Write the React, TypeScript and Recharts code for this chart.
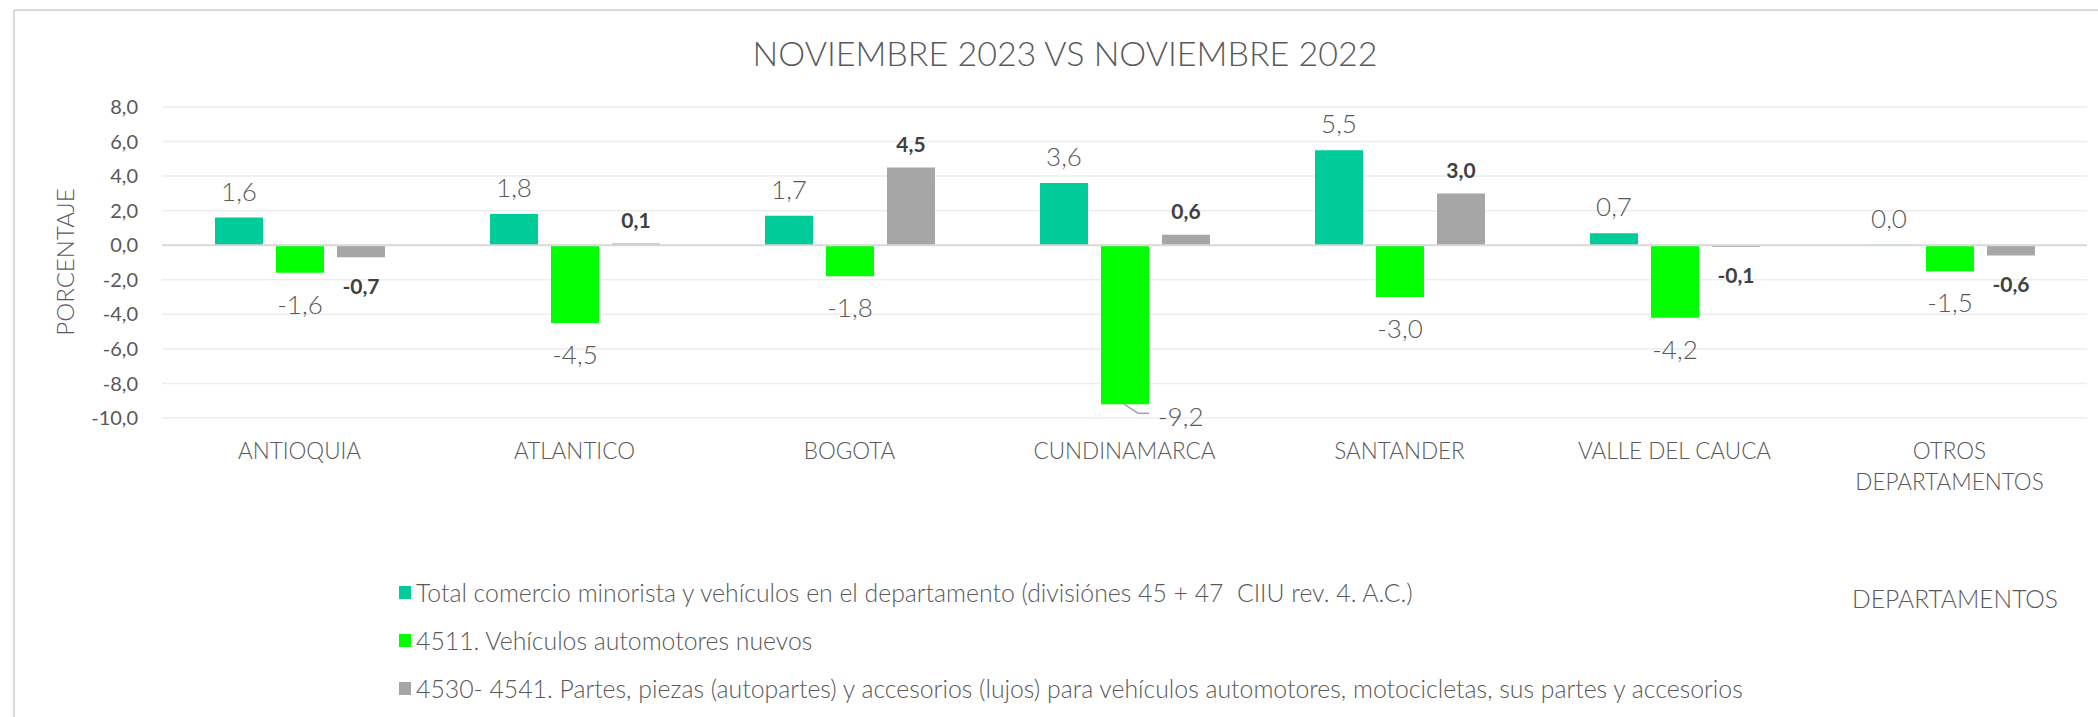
import React from 'react';
import { BarChart, Bar, XAxis, YAxis, CartesianGrid, LabelList, ReferenceLine } from 'recharts';

const categories = ['ANTIOQUIA', 'ATLANTICO', 'BOGOTA', 'CUNDINAMARCA', 'SANTANDER', 'VALLE DEL CAUCA', 'OTROS DEPARTAMENTOS'];
const totalComercio = [1.6, 1.8, 1.7, 3.6, 5.5, 0.7, 0.03];
const vehiculosNuevos = [-1.6, -4.5, -1.8, -9.2, -3.0, -4.2, -1.5];
const partesPiezas = [-0.7, 0.1, 4.5, 0.6, 3.0, -0.1, -0.6];
const yTicks = [-10, -8, -6, -4, -2, 0, 2, 4, 6, 8];
const seriesNames = [
  'Total comercio minorista y vehículos en el departamento (divisiónes 45 + 47  CIIU rev. 4. A.C.)',
  '4511. Vehículos automotores nuevos',
  '4530- 4541. Partes, piezas (autopartes) y accesorios (lujos) para vehículos automotores, motocicletas, sus partes y accesorios',
];
const seriesKeys = ['total', 'nuevos', 'partes'];
const seriesColors = ['#00CC99', '#00FF00', '#A6A6A6'];
const title = 'NOVIEMBRE 2023 VS NOVIEMBRE 2022';
const yTitle = 'PORCENTAJE';
const xTitle = 'DEPARTAMENTOS';

const data = categories.map((name, i) => ({
  name,
  total: totalComercio[i],
  nuevos: vehiculosNuevos[i],
  partes: partesPiezas[i],
}));

const FONT = 'Lato, "Open Sans", sans-serif';
const TEXT = '#595959';
const W = 2098;
const H = 717;
const PLOT_TOP = 107;
const PLOT_BOTTOM = 418;
const PLOT_RIGHT = 2087;
const PLOT_LEFT = 162;
const X_AXIS_H = 60;

const fmt = (v: number) => (Math.round(v * 10) / 10).toFixed(1).replace('.', ',').replace('-0,0', '0,0');

const wrapWords = (s: string, max: number) => {
  const words = s.split(' ');
  const lines: string[] = [];
  let cur = '';
  words.forEach((w) => {
    const next = cur ? cur + ' ' + w : w;
    if (next.length > max && cur) {
      lines.push(cur);
      cur = w;
    } else cur = next;
  });
  if (cur) lines.push(cur);
  return lines;
};

const CategoryTick = (props: any) => {
  const { x, y, payload } = props;
  const lines = wrapWords(String(payload.value), 16);
  return (
    <text x={x} y={y} textAnchor="middle" fill={TEXT} fontSize={22.5} fontFamily={FONT} fontWeight={300}>
      {lines.map((l, i) => (
        <tspan key={i} x={x} dy={i === 0 ? 33 : 31}>
          {l}
        </tspan>
      ))}
    </text>
  );
};

const makeLabel = (bold: boolean, aboveGap: number, belowGap: number) => (props: any) => {
  const { x, y, width, height, value } = props;
  const top = Math.min(y, y + height);
  const bottom = Math.max(y, y + height);
  const cx = x + width / 2;
  const fontSize = bold ? 21 : 26;
  const style = {
    fill: bold ? '#404040' : TEXT,
    fontSize,
    fontFamily: FONT,
    fontWeight: bold ? 700 : 300,
  } as any;
  const txt = fmt(Number(value));
  if (value >= 0) {
    return (
      <text x={cx} y={top - aboveGap} textAnchor="middle" dominantBaseline="central" style={style}>
        {txt}
      </text>
    );
  }
  const belowCenter = bottom + belowGap;
  if (belowCenter > PLOT_BOTTOM) {
    const right = x + width;
    const ly = bottom + 9;
    return (
      <g>
        <polyline
          points={`${cx - 1},${bottom} ${cx + 13},${ly} ${right},${ly}`}
          fill="none"
          stroke="#A6A6A6"
          strokeWidth={1.5}
        />
        <text x={right + 9} y={bottom + 12} textAnchor="start" dominantBaseline="central" style={style}>
          {txt}
        </text>
      </g>
    );
  }
  return (
    <text x={cx} y={belowCenter} textAnchor="middle" dominantBaseline="central" style={style}>
      {txt}
    </text>
  );
};

const labelRenderers = [makeLabel(false, 27, 31), makeLabel(false, 27, 31), makeLabel(true, 24, 28)];

export default function App() {
  return (
    <div style={{ position: 'absolute', left: 0, top: 0, width: W, height: H, background: '#fff', overflow: 'hidden' }}>
      <BarChart
        width={W}
        height={H}
        data={data}
        margin={{ top: PLOT_TOP, right: W - PLOT_RIGHT, bottom: H - PLOT_BOTTOM - X_AXIS_H, left: PLOT_LEFT - 100 }}
        barGap={13}
        barSize={48}
      >
        <CartesianGrid vertical={false} stroke="#EDEDED" strokeWidth={1.5} />
        <XAxis
          dataKey="name"
          axisLine={false}
          tickLine={false}
          interval={0}
          height={X_AXIS_H}
          tick={<CategoryTick />}
        />
        <YAxis
          width={100}
          domain={[-10, 8]}
          ticks={yTicks}
          allowDataOverflow
          axisLine={false}
          tickLine={false}
          tickSize={6}
          tickMargin={18}
          tickFormatter={fmt}
          tick={{ fill: TEXT, fontSize: 20, fontFamily: FONT }}
        />
        <ReferenceLine y={0} stroke="#D9D9D9" strokeWidth={2} />
        {seriesKeys.map((k, i) => (
          <Bar key={k} dataKey={k} name={seriesNames[i]} fill={seriesColors[i]} isAnimationActive={false}>
            <LabelList dataKey={k} content={labelRenderers[i]} />
          </Bar>
        ))}
      </BarChart>
      <svg width={W} height={H} style={{ position: 'absolute', left: 0, top: 0, pointerEvents: 'none' }}>
        <line x1={14} y1={10} x2={W} y2={10} stroke="#D9D9D9" strokeWidth={2} />
        <line x1={14} y1={10} x2={14} y2={H} stroke="#D9D9D9" strokeWidth={2} />
        <text x={1065} y={52} textAnchor="middle" dominantBaseline="central" fill={TEXT} fontSize={34} fontFamily={FONT} fontWeight={300}>
          {title}
        </text>
        <text
          x={64}
          y={262}
          textAnchor="middle"
          dominantBaseline="central"
          fill={TEXT}
          fontSize={24}
          fontFamily={FONT}
          fontWeight={300}
          transform="rotate(-90 64 262)"
        >
          {yTitle}
        </text>
        <text x={2058} y={598} textAnchor="end" dominantBaseline="central" fill={TEXT} fontSize={24.6} fontFamily={FONT} fontWeight={300}>
          {xTitle}
        </text>
        {seriesNames.map((n, i) => (
          <g key={n}>
            <rect x={399} y={592 + i * 48 - 6} width={12} height={13} fill={seriesColors[i]} />
            <text
              x={416}
              y={592 + i * 48}
              dominantBaseline="central"
              fill={TEXT}
              fontSize={24.8}
              fontFamily={FONT}
              fontWeight={300}
              style={{ whiteSpace: 'pre' }}
            >
              {n}
            </text>
          </g>
        ))}
      </svg>
    </div>
  );
}
